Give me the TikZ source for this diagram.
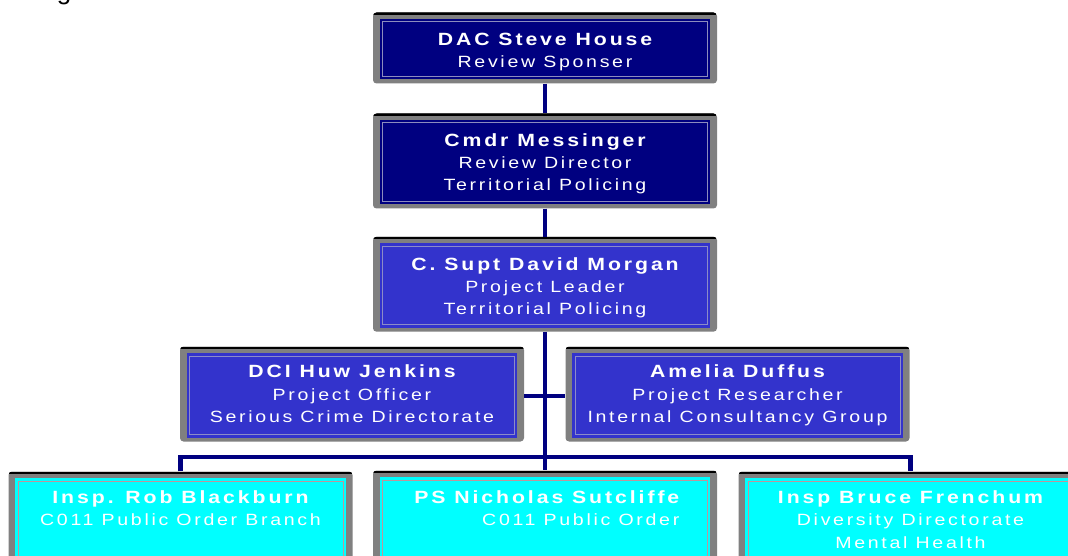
\documentclass[tikz,border=0pt]{standalone}
\usepackage{fontspec}
\newfontfamily\rolefont{Liberation Sans}[LetterSpace=16.5, FakeStretch=1.2]
\newfontfamily\namefontfam{Liberation Sans}[LetterSpace=16.5, FakeStretch=1.2]
\newfontfamily\plainsans{Liberation Sans}
\newcommand\nm[1]{{\namefontfam\bfseries\fontsize{17.7}{22.3}\selectfont #1}}
\definecolor{navyfill}{RGB}{0,0,128}
\definecolor{navyline}{RGB}{140,140,190}
\definecolor{bluefill}{RGB}{51,51,204}
\definecolor{blueline}{RGB}{140,140,200}
\definecolor{cyanfill}{RGB}{0,255,255}
\definecolor{cyanline}{RGB}{190,150,155}
\definecolor{framegray}{RGB}{128,128,128}
\definecolor{connnavy}{RGB}{0,0,128}
\tikzset{
  boxcol/.store in=\boxcol, linecol/.store in=\linecol,
  orgbox/.style={rounded corners=3.5pt, fill=framegray, minimum width=344pt,
    minimum height=95pt, inner sep=0pt,
    path picture={
      \fill[black, sharp corners] (path picture bounding box.north west)
        rectangle ([yshift=-2.5pt]path picture bounding box.north east);
      \fill[\boxcol, sharp corners] ([xshift=6.7pt,yshift=-6.7pt]path picture bounding box.north west)
        rectangle ([xshift=-6.7pt,yshift=4pt]path picture bounding box.south east);
      \draw[\linecol, line width=1pt, sharp corners] ([xshift=9.5pt,yshift=-9.5pt]path picture bounding box.north west)
        rectangle ([xshift=-9.5pt,yshift=6.8pt]path picture bounding box.south east);
    }},
  navybox/.style={orgbox, boxcol=navyfill, linecol=navyline},
  bluebox/.style={orgbox, boxcol=bluefill, linecol=blueline},
  cyanbox/.style={orgbox, boxcol=cyanfill, linecol=cyanline},
  boxtext/.style={anchor=north, inner sep=0pt, align=center, text=white,
    font=\rolefont\fontsize{16.3}{22.3}\selectfont},
  conn/.style={draw=connnavy, line width=4.5pt, line join=miter}
}
\begin{document}
\begin{tikzpicture}[x=1pt,y=-1pt]
\useasboundingbox (0,0) rectangle (1068,556);
\clip (0,0) rectangle (1068,556);
\fill[white] (0,0) rectangle (1068,556);
\node[font=\plainsans\fontsize{26}{30}\selectfont, anchor=base, inner sep=0pt] (frag) at (64,0) {g};
% boxes
\node[navybox, minimum height=71pt] (sponsor) at (545,48) {};
\node[navybox] (director) at (545,161) {};
\node[bluebox] (leader) at (545,284.2) {};
\node[bluebox] (officer) at (352,394) {};
\node[bluebox] (researcher) at (737.5,394) {};
\node[cyanbox] (blackburn) at (180.5,519) {};
\node[cyanbox] (sutcliffe) at (545,518) {};
\node[cyanbox] (frenchum) at (910.5,519) {};
% texts
\node[boxtext] (sponsor-t) at (545,29.4) {\strut\nm{DAC Steve House}\\Review Sponser};
\node[boxtext] (director-t) at (545,130.4) {\strut\nm{Cmdr Messinger}\\Review Director\\Territorial Policing};
\node[boxtext] (leader-t) at (545,254.4) {\strut\nm{C. Supt David Morgan}\\Project Leader\\Territorial Policing};
\node[boxtext] (officer-t) at (352,361.9) {\strut\nm{DCI Huw Jenkins}\\Project Officer\\Serious Crime Directorate};
\node[boxtext] (researcher-t) at (737.5,361.9) {\strut\nm{Amelia Duffus}\\Project Researcher\\Internal Consultancy Group};
\node[boxtext] (blackburn-t) at (180.5,487.7) {\strut\nm{Insp. Rob Blackburn}\\C011 Public Order Branch};
\node[boxtext, anchor=north east, align=right] (sutcliffe-t) at (679.5,487.7) {\strut\nm{PS Nicholas Sutcliffe}\\C011 Public Order};
\node[boxtext] (frenchum-t) at (910.5,487.7) {\strut\nm{Insp Bruce Frenchum}\\Diversity Directorate\\Mental Health};
% connectors
\coordinate (bus) at (545,457);
\draw[conn] (sponsor.south) -- (director.north);
\draw[conn] (director.south) -- (leader.north);
\draw[conn] (leader.south) -- (sutcliffe.north);
\draw[conn] ([yshift=-2pt]officer.east) -- ([yshift=-2pt]researcher.west);
\draw[conn] (blackburn.north) -- (blackburn.north |- bus) -- (frenchum.north |- bus) -- (frenchum.north);
\end{tikzpicture}
\end{document}
